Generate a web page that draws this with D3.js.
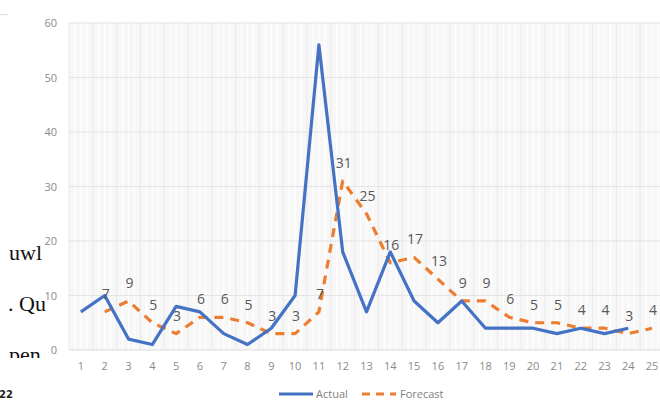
<!DOCTYPE html>
<html>
<head>
<meta charset="utf-8">
<script src="https://cdn.jsdelivr.net/npm/d3@7/dist/d3.min.js"></script>
<style>
  html, body { margin: 0; padding: 0; background: #fff; }
  svg { display: block; }
</style>
</head>
<body>
<svg id="chart" width="660" height="401"></svg>
<script>
// Periods along the x axis
const periods = d3.range(1, 26).map(String);
// Observed values (period 25 not yet observed)
const actual = [7, 10, 2, 1, 8, 7, 3, 1, 4, 10, 56, 18, 7, 18, 9, 5, 9, 4, 4, 4, 3, 4, 3, 4, null];
// Forecast values (starting from period 2)
const forecast = [null, 7, 9, 5, 3, 6, 6, 5, 3, 3, 7, 31, 25, 16, 17, 13, 9, 9, 6, 5, 5, 4, 4, 3, 4];
const yTicks = [0, 10, 20, 30, 40, 50, 60];
const seriesNames = ["Actual", "Forecast"];

const svg = d3.select("#chart");
const plot = { left: 69, right: 664, top: 23, bottom: 350 };

const x = d3.scaleBand().domain(periods).range([plot.left, plot.right]).padding(0);
const y = d3.scaleLinear().domain([0, 60]).range([plot.bottom, plot.top]);
const cx = p => x(p) + x.bandwidth() / 2;

// Plot background
svg.append("rect")
  .attr("x", plot.left).attr("y", plot.top)
  .attr("width", plot.right - plot.left).attr("height", plot.bottom - plot.top)
  .attr("fill", "#f7f7f7");

// Minor vertical grid (quarter bands)
const g = svg.append("g");
periods.forEach(p => {
  [0.25, 0.5, 0.75].forEach(f => {
    g.append("line")
      .attr("x1", x(p) + f * x.bandwidth()).attr("x2", x(p) + f * x.bandwidth())
      .attr("y1", plot.top).attr("y2", plot.bottom)
      .attr("stroke", "#ffffff").attr("stroke-width", 1.2);
  });
  g.append("line")
    .attr("x1", x(p)).attr("x2", x(p))
    .attr("y1", plot.top).attr("y2", plot.bottom)
    .attr("stroke", "#e9e9e9").attr("stroke-width", 1);
});

// Horizontal grid
yTicks.forEach(t => {
  g.append("line")
    .attr("x1", plot.left).attr("x2", plot.right)
    .attr("y1", y(t)).attr("y2", y(t))
    .attr("stroke", t === 0 ? "#dcdcdc" : "#e4e4e4").attr("stroke-width", 1.2);
});

// Y axis labels
const yAxis = d3.axisLeft(y).tickValues(yTicks).tickSize(0).tickPadding(12);
svg.append("g").attr("transform", `translate(${plot.left},0)`).call(yAxis)
  .call(a => a.select(".domain").remove())
  .call(a => a.selectAll("text")
    .attr("fill", "#8a8a8a").attr("font-family", "Open Sans, sans-serif").attr("font-size", 11));

// X axis labels
const xAxis = d3.axisBottom(x).tickSize(0).tickPadding(12);
svg.append("g").attr("transform", `translate(0,${plot.bottom})`).call(xAxis)
  .call(a => a.select(".domain").remove())
  .call(a => a.selectAll("text")
    .attr("fill", "#8a8a8a").attr("font-family", "Open Sans, sans-serif").attr("font-size", 11));

// Lines
const line = d3.line()
  .defined(d => d.v != null)
  .x(d => cx(d.p)).y(d => y(d.v));

const actualPts = periods.map((p, i) => ({ p, v: actual[i] }));
const forecastPts = periods.map((p, i) => ({ p, v: forecast[i] }));

svg.append("path").datum(forecastPts)
  .attr("d", line).attr("fill", "none")
  .attr("stroke", "#ED7D31").attr("stroke-width", 3.2)
  .attr("stroke-dasharray", "9,7").attr("stroke-linejoin", "round");

svg.append("path").datum(actualPts)
  .attr("d", line).attr("fill", "none")
  .attr("stroke", "#4472C4").attr("stroke-width", 3.2)
  .attr("stroke-linejoin", "round");

// Forecast value labels
svg.append("g").selectAll("text")
  .data(forecastPts.filter(d => d.v != null))
  .join("text")
  .attr("x", d => cx(d.p) + 1)
  .attr("y", d => y(d.v) - 13)
  .attr("text-anchor", "middle")
  .attr("fill", "#595959")
  .attr("font-family", "Open Sans, sans-serif")
  .attr("font-size", 14)
  .text(d => d.v);

// Legend
const legend = svg.append("g").attr("font-family", "Open Sans, sans-serif").attr("font-size", 11).attr("fill", "#7f7f7f");
legend.append("line").attr("x1", 279).attr("x2", 313).attr("y1", 394).attr("y2", 394)
  .attr("stroke", "#4472C4").attr("stroke-width", 3);
legend.append("text").attr("x", 316).attr("y", 398).attr("fill", "#7f7f7f").text(seriesNames[0]);
legend.append("line").attr("x1", 362).attr("x2", 396).attr("y1", 394).attr("y2", 394)
  .attr("stroke", "#ED7D31").attr("stroke-width", 3).attr("stroke-dasharray", "8,6");
legend.append("text").attr("x", 400).attr("y", 398).attr("fill", "#7f7f7f").text(seriesNames[1]);

// Surrounding page text fragments
const page = svg.append("g").attr("font-family", "Liberation Serif, serif").attr("fill", "#111");
page.append("text").attr("x", 9).attr("y", 260).attr("font-size", 22).text("uwl");
page.append("text").attr("x", 8).attr("y", 311).attr("font-size", 22).text(". Qu");
svg.append("clipPath").attr("id", "pageClip")
  .append("rect").attr("x", 0).attr("y", 330).attr("width", 60).attr("height", 28);
page.append("text").attr("x", 9).attr("y", 362).attr("font-size", 22)
  .attr("clip-path", "url(#pageClip)").text("pen");
svg.append("text").attr("x", -1).attr("y", 398).attr("font-family", "DejaVu Sans, sans-serif")
  .attr("font-weight", "bold").attr("font-size", 10).attr("fill", "#222").text("22");
svg.append("text").attr("x", 0).attr("y", 18).attr("font-family", "DejaVu Sans, sans-serif")
  .attr("font-size", 8).attr("fill", "#aaa").text("···");
</script>
</body>
</html>
